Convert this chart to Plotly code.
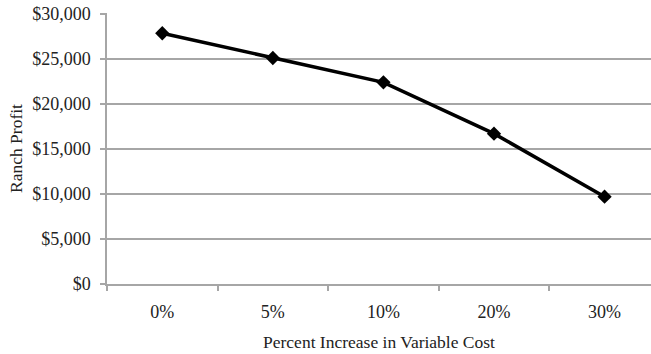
import plotly.graph_objects as go

categories = ["0%", "5%", "10%", "20%", "30%"]
profit = [27850, 25100, 22400, 16700, 9700]
y_ticks = [0, 5000, 10000, 15000, 20000, 25000, 30000]
y_tick_labels = ["$0", "$5,000", "$10,000", "$15,000", "$20,000", "$25,000", "$30,000"]

font_family = "Liberation Serif, Times New Roman, serif"
grid_col = "#a6a6a6"

fig = go.Figure()
fig.add_trace(go.Scatter(
    x=categories, y=profit, mode="lines+markers",
    line=dict(color="black", width=3.5),
    marker=dict(symbol="diamond", size=11, color="black"),
    showlegend=False,
))

fig.update_layout(
    width=651, height=354,
    margin=dict(l=107, r=0, t=13.1, b=70),
    paper_bgcolor="white", plot_bgcolor="white",
    font=dict(family=font_family, size=18, color="#222222"),
    xaxis=dict(
        type="category", range=[-0.5, 4.42], automargin=False,
        tickson="boundaries", ticks="outside", ticklen=5, tickcolor=grid_col, tickwidth=1.5,
        showline=True, linecolor=grid_col, linewidth=2,
        showgrid=False, zeroline=False,
        ticklabelstandoff=10,
        title=dict(text="Percent Increase in Variable Cost", font=dict(size=17.5), standoff=15),
    ),
    yaxis=dict(
        range=[0, 30100], tickvals=y_ticks, ticktext=y_tick_labels, automargin=False,
        ticks="outside", ticklen=5, tickcolor=grid_col, tickwidth=1.5,
        showline=True, linecolor=grid_col, linewidth=1.5,
        showgrid=True, gridcolor=grid_col, gridwidth=1.5, zeroline=False,
        ticklabelstandoff=6,
        title=dict(text="Ranch Profit", font=dict(size=17.5), standoff=5),
    ),
)

# remove the page's default body margin so the figure sits at the window origin
fig.write_html("out.html", config={"displayModeBar": False},
               post_script="document.body.style.margin='0';")
